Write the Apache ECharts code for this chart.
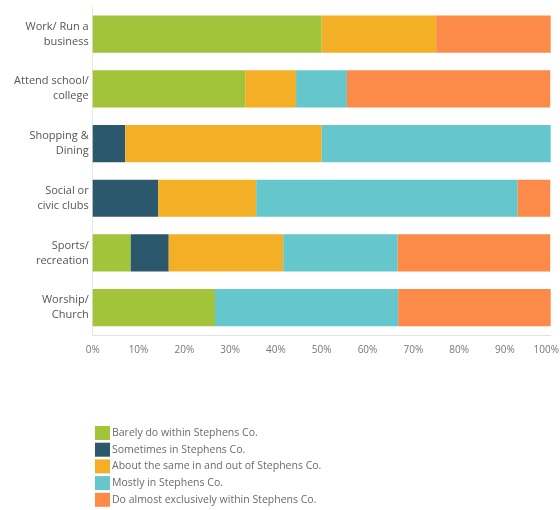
<!DOCTYPE html>
<html>
<head>
<meta charset="utf-8">
<script src="https://cdn.jsdelivr.net/npm/echarts@6/dist/echarts.min.js"></script>
<style>
  html, body { margin: 0; padding: 0; background: #ffffff; }
  #chart { width: 560px; height: 510px; }
</style>
</head>
<body>
<div id="chart"></div>
<script>
// Activities, top to bottom
const categories = [
  'Work/ Run a\nbusiness',
  'Attend school/\ncollege',
  'Shopping &\nDining',
  'Social or\ncivic clubs',
  'Sports/\nrecreation',
  'Worship/\nChurch'
];

// Share of respondents (%) per answer, same order as categories
const barely      = [50.0, 33.3, 0,    0,    8.3,  26.7];
const sometimes   = [0,    0,    7.1,  14.3, 8.3,  0];
const aboutSame   = [25.0, 11.1, 42.9, 21.4, 25.0, 0];
const mostly      = [0,    11.1, 50.0, 57.1, 25.0, 40.0];
const exclusively = [25.0, 44.4, 0,    7.1,  33.3, 33.3];

const seriesNames = [
  'Barely do within Stephens Co.',
  'Sometimes in Stephens Co.',
  'About the same in and out of Stephens Co.',
  'Mostly in Stephens Co.',
  'Do almost exclusively within Stephens Co.'
];
const seriesData = [barely, sometimes, aboutSame, mostly, exclusively];
const colors = ['#a2c43a', '#2b586c', '#f3b026', '#65c7cb', '#fc8a48'];

const xTicks = [0, 10, 20, 30, 40, 50, 60, 70, 80, 90, 100];

const chart = echarts.init(document.getElementById('chart'), null, { renderer: 'canvas' });

chart.setOption({
  animation: false,
  backgroundColor: '#ffffff',
  textStyle: { fontFamily: '"Open Sans", sans-serif' },
  color: colors,
  grid: {
    left: 92.7, right: 9.3, top: 6.8, bottom: 175,
    containLabel: false,
    outerBoundsMode: 'none'
  },
  legend: {
    orient: 'vertical',
    left: 90,
    top: 421,
    height: 100,
    itemWidth: 15,
    itemHeight: 14,
    itemGap: 2.7,
    icon: 'rect',
    data: seriesNames,
    textStyle: { fontSize: 10.5, color: '#6a6a6a', padding: [0, 0, 0, -3], lineHeight: 14 }
  },
  xAxis: {
    type: 'value',
    min: 0,
    max: 100,
    interval: 10,
    axisLine: { show: true, lineStyle: { color: '#e2e2e2', width: 1 } },
    axisTick: { show: false },
    splitLine: { show: false },
    axisLabel: {
      color: '#777777',
      fontSize: 10,
      margin: 10,
      formatter: function (v) {
        if (xTicks.indexOf(v) < 0) return '';
        // the last label is nudged left so it stays inside the canvas
        return v === 100 ? '{last|' + v + '%}' : v + '%';
      },
      rich: {
        last: { fontSize: 10, color: '#777777', padding: [0, 9, 0, 0] }
      }
    }
  },
  yAxis: {
    type: 'category',
    inverse: true,
    data: categories,
    axisLine: { show: true, lineStyle: { color: '#e8e8e8', width: 1 } },
    axisTick: { show: false },
    axisLabel: {
      color: '#555555',
      fontSize: 11,
      lineHeight: 15,
      margin: 4,
      align: 'right'
    }
  },
  series: seriesData.map(function (d, i) {
    return {
      name: seriesNames[i],
      type: 'bar',
      stack: 'total',
      data: d,
      barCategoryGap: '32%',
      itemStyle: { color: colors[i] },
      emphasis: { disabled: true }
    };
  })
});
</script>
</body>
</html>
